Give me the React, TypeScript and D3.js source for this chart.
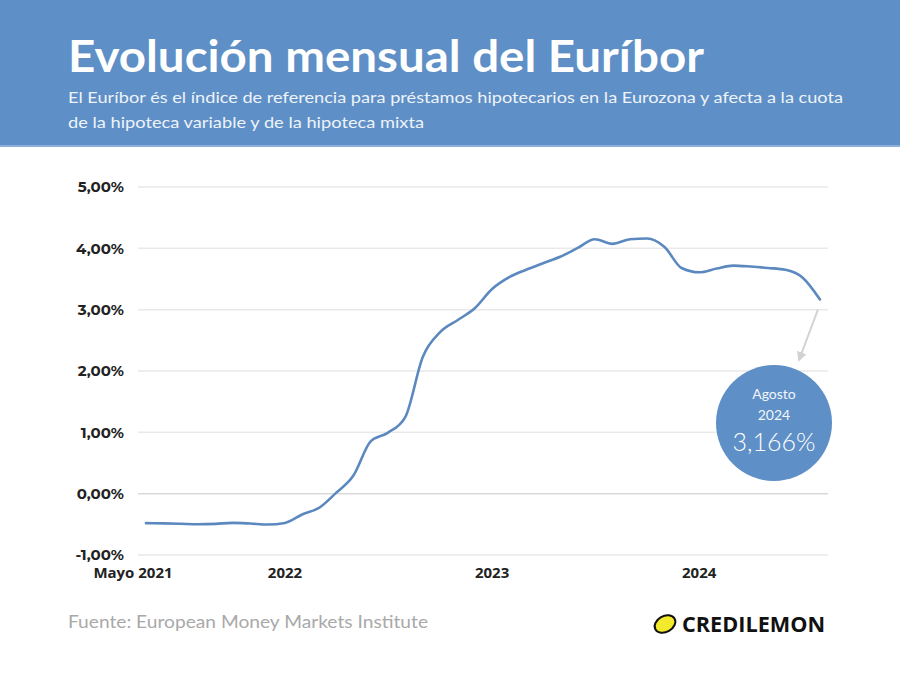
import { useEffect } from 'react';
import * as d3 from 'd3';

// Euríbor 12M, monthly average (%), May 2021 - Aug 2024
const months = [
  '2021-05', '2021-06', '2021-07', '2021-08', '2021-09', '2021-10', '2021-11', '2021-12',
  '2022-01', '2022-02', '2022-03', '2022-04', '2022-05', '2022-06', '2022-07', '2022-08',
  '2022-09', '2022-10', '2022-11', '2022-12',
  '2023-01', '2023-02', '2023-03', '2023-04', '2023-05', '2023-06', '2023-07', '2023-08',
  '2023-09', '2023-10', '2023-11', '2023-12',
  '2024-01', '2024-02', '2024-03', '2024-04', '2024-05', '2024-06', '2024-07', '2024-08',
];
const euribor = [
  -0.481, -0.484, -0.491, -0.498, -0.492, -0.477, -0.487, -0.502,
  -0.477, -0.335, -0.237, 0.013, 0.287, 0.852, 0.992, 1.249,
  2.233, 2.629, 2.828, 3.018,
  3.337, 3.534, 3.647, 3.757, 3.862, 4.007, 4.149, 4.073,
  4.149, 4.16, 4.022, 3.679,
  3.609, 3.671, 3.718, 3.703, 3.68, 3.65, 3.526, 3.166,
];
const yTicks = [-1, 0, 1, 2, 3, 4, 5];
const xTickDates = ['2021-05', '2022-01', '2023-01', '2024-01'];
const xTickLabels = ['Mayo 2021', '2022', '2023', '2024'];

const title = 'Evolución mensual del Euríbor';
const subtitle1 = 'El Euríbor és el índice de referencia para préstamos hipotecarios en la Eurozona y afecta a la cuota';
const subtitle2 = 'de la hipoteca variable y de la hipoteca mixta';
const source = 'Fuente: European Money Markets Institute';

const W = 900;
const H = 675;
const blue = '#5e8fc6';
const lineColor = '#5b89bf';

export default function App() {
  useEffect(() => {
    document.body.style.margin = '0';
  }, []);

  const parse = d3.timeParse('%Y-%m');
  const data = months.map((m, i) => ({ date: parse(m) as Date, value: euribor[i] }));

  const x = d3
    .scaleTime()
    .domain(d3.extent(data, (d) => d.date) as [Date, Date])
    .range([146, 820]);
  const y = d3.scaleLinear().domain([-1, 5]).range([555, 187]);

  const line = d3
    .line<{ date: Date; value: number }>()
    .x((d) => x(d.date))
    .y((d) => y(d.value))
    .curve(d3.curveMonotoneX);

  const fmt = (v: number) => v.toFixed(2).replace('.', ',') + '%';
  const last = data[data.length - 1];

  return (
    <svg width={W} height={H} style={{ display: 'block', background: '#fff' }}>
      <defs>
        <marker id="arrow" viewBox="0 0 10 10" refX="8" refY="5" markerWidth="5" markerHeight="5" orient="auto">
          <path d="M0,0 L10,5 L0,10 z" fill="#d2d2d2" />
        </marker>
      </defs>

      {/* header */}
      <rect x={0} y={0} width={W} height={146} fill={blue} />
      <rect x={0} y={145} width={W} height={2} fill="#8db0d9" />
      <text x={68} y={72} fill="#fff" fontFamily="Lato, sans-serif" fontWeight={700} fontSize={44}
        textLength={636} lengthAdjust="spacingAndGlyphs">{title}</text>
      <text x={68} y={103} fill="#eef3f9" fontFamily="Lato, sans-serif" fontSize={16}
        textLength={775} lengthAdjust="spacingAndGlyphs">{subtitle1}</text>
      <text x={68} y={128} fill="#eef3f9" fontFamily="Lato, sans-serif" fontSize={16}
        textLength={356} lengthAdjust="spacingAndGlyphs">{subtitle2}</text>

      {/* grid + y labels */}
      {yTicks.map((t) => (
        <g key={t}>
          <line x1={138} x2={828} y1={y(t)} y2={y(t)} stroke={t === 0 ? '#d9d9d9' : '#e9e9e9'} strokeWidth={1.5} />
          <text x={124} y={y(t)} dy="0.35em" textAnchor="end" fill="#222" fontFamily="Montserrat, 'Open Sans', sans-serif"
            fontWeight={700} fontSize={15}>{fmt(t)}</text>
        </g>
      ))}

      {/* x labels */}
      {xTickDates.map((d, i) => (
        <text key={d} x={i === 0 ? x(parse(d) as Date) - 13 : x(parse(d) as Date)} y={578} textAnchor="middle"
          fill="#222" fontFamily="'Open Sans', sans-serif" fontWeight={700} fontSize={15}>{xTickLabels[i]}</text>
      ))}

      {/* line */}
      <path d={line(data) ?? ''} fill="none" stroke={lineColor} strokeWidth={2.6} strokeLinejoin="round" strokeLinecap="round" />

      {/* annotation */}
      <line x1={x(last.date) - 2} y1={y(last.value) + 10} x2={799} y2={360} stroke="#d2d2d2" strokeWidth={2} markerEnd="url(#arrow)" />
      <circle cx={774} cy={423} r={58} fill={blue} />
      <text x={774} y={399} textAnchor="middle" fill="#f2f6fb" fontFamily="Lato, sans-serif" fontSize={14}>Agosto</text>
      <text x={774} y={420} textAnchor="middle" fill="#f2f6fb" fontFamily="Lato, sans-serif" fontSize={14}>2024</text>
      <text x={774} y={451} textAnchor="middle" fill="#fff" fontFamily="Lato, sans-serif" fontWeight={300} fontSize={25}>
        {last.value.toFixed(3).replace('.', ',') + '%'}
      </text>

      {/* footer */}
      <text x={68} y={628} fill="#a9a9a9" fontFamily="Lato, sans-serif" fontSize={18}
        textLength={360} lengthAdjust="spacingAndGlyphs">{source}</text>
      <g transform="translate(665,624) rotate(-30)">
        <ellipse cx={0} cy={0} rx={11} ry={8} fill="#f3ea2e" stroke="#111" strokeWidth={2} />
      </g>
      <text x={682} y={632} fill="#111" fontFamily="'Open Sans', sans-serif" fontWeight={700} fontSize={21}
        textLength={143} lengthAdjust="spacingAndGlyphs">CREDILEMON</text>
    </svg>
  );
}
